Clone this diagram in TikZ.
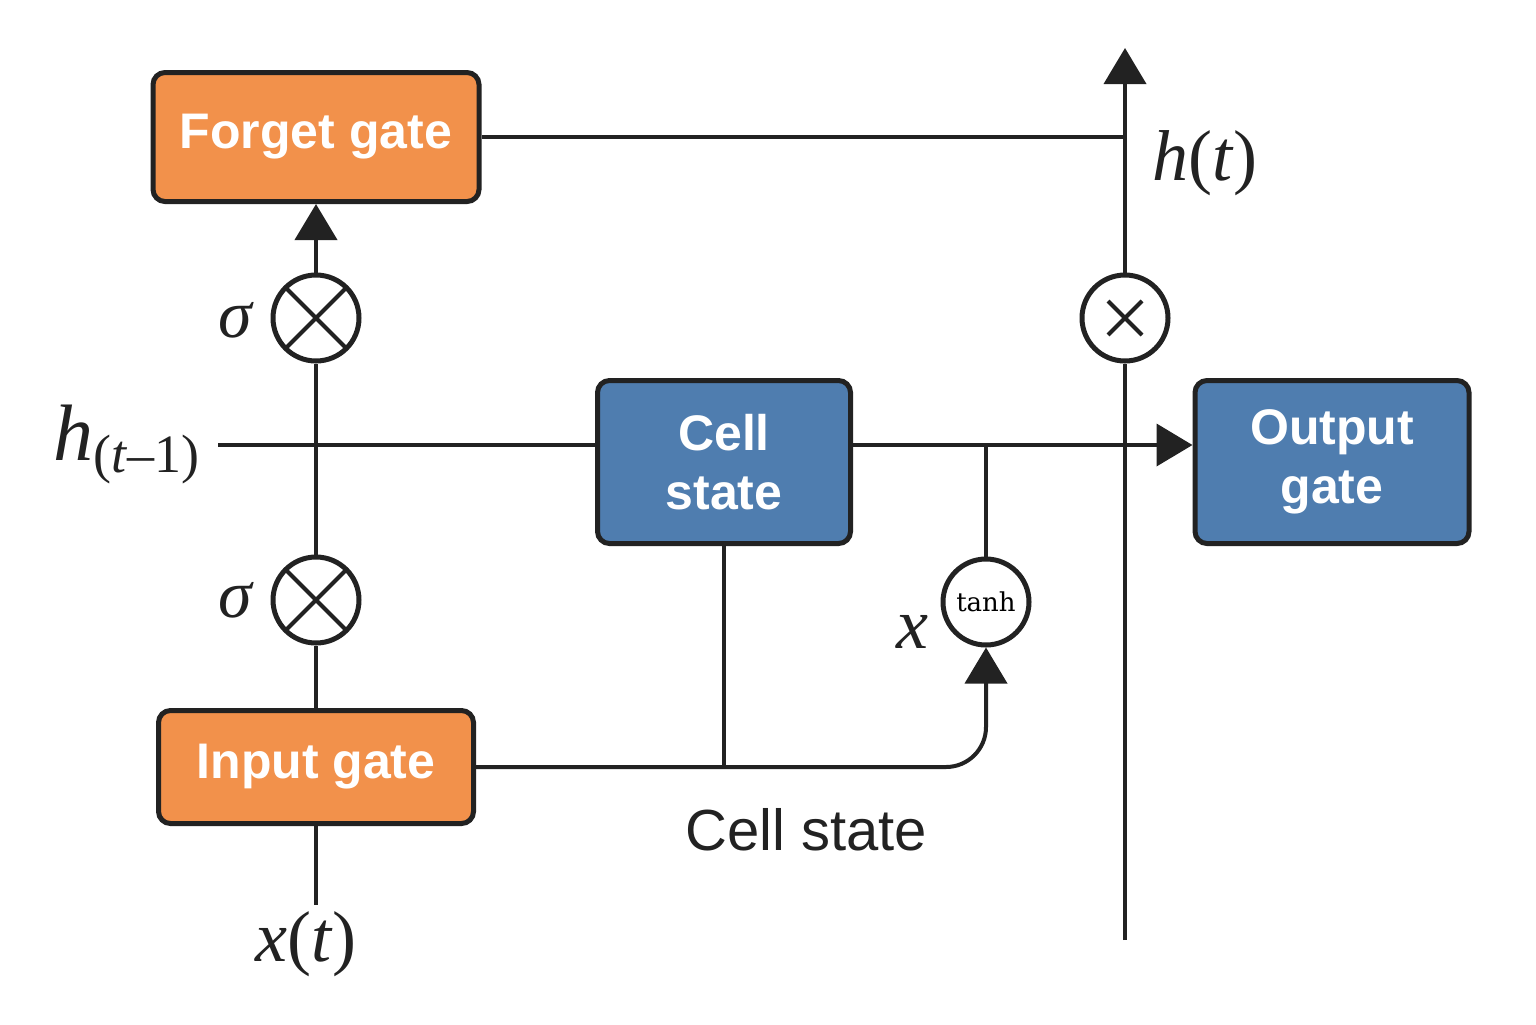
\documentclass[tikz,border=0pt]{standalone}
\usepackage{fontspec}
\newfontfamily\boxfont{Liberation Sans}
\newfontfamily\symfont{Liberation Serif}
\newfontfamily\opfont{DejaVu Serif}
\newcommand{\mvar}[1]{\textit{#1}}
\usetikzlibrary{arrows.meta,positioning}
\definecolor{gateorange}{HTML}{F2914B}
\definecolor{stateblue}{HTML}{4F7DAF}
\definecolor{linedark}{HTML}{222222}
\tikzset{
  gatebox/.style={draw=linedark, line width=2.5pt, rounded corners=6pt, fill=gateorange,
    text=white, align=center, font=\boxfont\bfseries\fontsize{25}{29.5}\selectfont},
  statebox/.style={gatebox, fill=stateblue},
  opcircle/.style={circle, draw=linedark, line width=2.5pt, fill=white, minimum size=43pt, inner sep=0pt},
  otimes/.style={opcircle, path picture={\draw[line width=2pt, linedark]
    (path picture bounding box.south west) -- (path picture bounding box.north east)
    (path picture bounding box.north west) -- (path picture bounding box.south east);}},
  smalltimes/.style={opcircle, path picture={\draw[line width=2pt, linedark]
    ([shift={(-8.5pt,-8.5pt)}]path picture bounding box.center) -- ([shift={(8.5pt,8.5pt)}]path picture bounding box.center)
    ([shift={(-8.5pt,8.5pt)}]path picture bounding box.center) -- ([shift={(8.5pt,-8.5pt)}]path picture bounding box.center);}},
  mathlabel/.style={text=linedark, inner sep=0pt, font=\symfont\fontsize{36}{42}\selectfont},
  flow/.style={draw=linedark, line width=2pt},
  flowarrow/.style={flow, -{Triangle[length=18pt,width=21pt]}}
}
\begin{document}
\begin{tikzpicture}[x=0.5pt, y=-0.5pt]
\useasboundingbox (0,0) rectangle (1536,1024);
% boxes
\node [gatebox, minimum width=163pt, minimum height=64.5pt] (forget) at (316,137) {Forget gate};
\node [gatebox, minimum width=157.5pt, minimum height=56.5pt] (input) at (316,767) {Input gate};
\node [statebox, minimum width=126.5pt, minimum height=81.5pt] (cell) at (724,462) {Cell\\state};
\node [statebox, minimum width=137pt, minimum height=81.5pt] (output) at (1332,462) {Output\\gate};
% operators
\node [otimes] (fmul) at (316,318) {};
\node [otimes] (imul) at (316,600) {};
\node [smalltimes] (hmul) at (1125,318) {};
\node [opcircle, font=\opfont\fontsize{13}{16}\selectfont] (tanh) at (986,602) {tanh};
% free ends
\coordinate (hin) at (218,445);
\coordinate (xin) at (316,905);
\coordinate (htop) at (1125,48);
\coordinate (hbot) at (1125,940);
\coordinate (branch) at (tanh |- hin);
% connectors
\draw [flow] (input.north) -- (imul.south);
\draw [flow] (imul.north) -- (fmul.south);
\draw [flowarrow] (fmul.north) -- (forget.south);
\draw [flow] (input.south) -- (xin);
\draw [flow] (hin) -- (hin -| cell.west);
\draw [flowarrow] (hin -| cell.east) -- (hin -| output.west);
\draw [flow] (branch) -- (tanh.north);
\draw [flow] (cell.south) -- (cell.south |- input.east);
\draw [flowarrow, rounded corners=20pt] (input.east) -- (input.east -| tanh) -- (tanh.south);
\draw [flow] (forget.east) -- (forget.east -| hmul);
\draw [flow] (hbot) -- (hmul.south);
\draw [flowarrow] (hmul.north) -- (htop);
% labels
\node [mathlabel, font=\symfont\fontsize{34}{40}\selectfont] (sigf) at (236,320) {\mvar{σ}};
\node [mathlabel, font=\symfont\fontsize{34}{40}\selectfont] (sigi) at (236,600) {\mvar{σ}};
\node [mathlabel] (xlab) at (912,632) {\mvar{x}};
\node [mathlabel] (hout) at (1205,163) {\mvar{h}(\mvar{t})};
\node [mathlabel] (xt) at (306,944) {\mvar{x}(\mvar{t})};
\node [mathlabel, font=\symfont\fontsize{40}{46}\selectfont, anchor=base east] (hprev) at (200,460)
  {\mvar{h}\raisebox{-6pt}{\fontsize{27}{32}\selectfont(\mvar{t}–1)}};
\node [text=linedark, font=\boxfont\fontsize{29}{34}\selectfont] (celllab) at (806,830) {Cell state};
\end{tikzpicture}
\end{document}
